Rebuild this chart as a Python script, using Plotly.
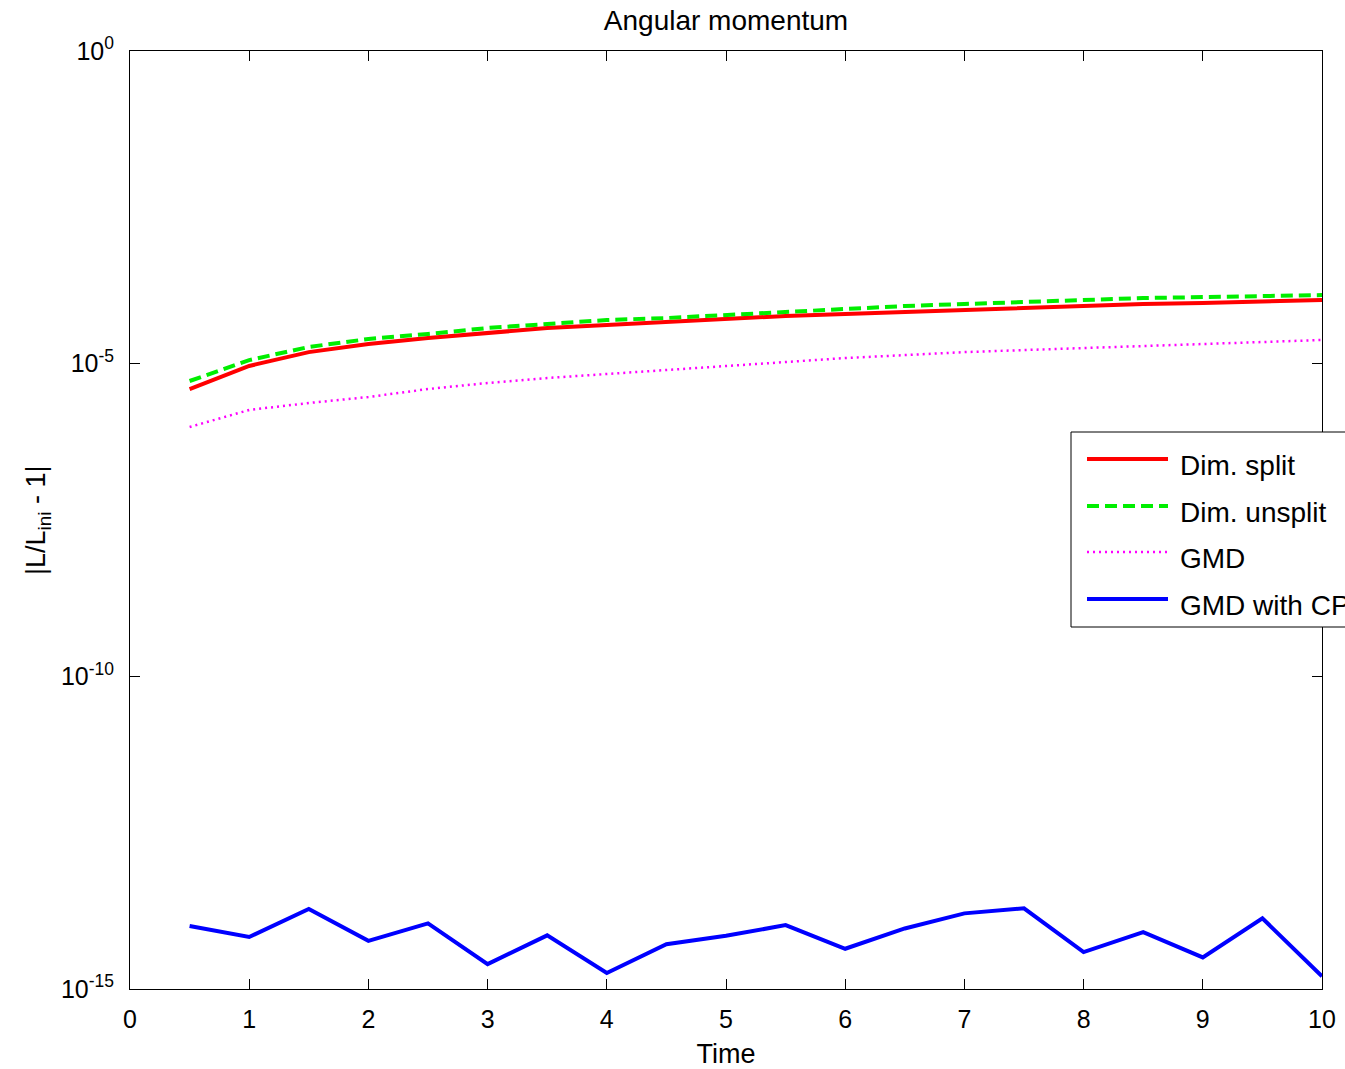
import plotly.graph_objects as go

time = [0.5, 1.0, 1.5, 2.0, 2.5, 3.0, 3.5, 4.0, 4.5, 5.0,
        5.5, 6.0, 6.5, 7.0, 7.5, 8.0, 8.5, 9.0, 9.5, 10.0]

dim_split = [3.93e-6, 9.2e-6, 1.53e-5, 2.06e-5, 2.57e-5, 3.09e-5, 3.72e-5, 4.15e-5, 4.64e-5, 5.18e-5,
             5.78e-5, 6.22e-5, 6.70e-5, 7.21e-5, 7.76e-5, 8.36e-5, 8.99e-5, 9.33e-5, 9.68e-5, 1.04e-4]

dim_unsplit = [5.28e-6, 1.14e-5, 1.85e-5, 2.48e-5, 2.98e-5, 3.72e-5, 4.31e-5, 4.99e-5, 5.37e-5, 6.0e-5,
               6.70e-5, 7.76e-5, 8.36e-5, 8.99e-5, 9.68e-5, 1.04e-4, 1.12e-4, 1.16e-4, 1.21e-4, 1.25e-4]

gmd = [9.7e-7, 1.82e-6, 2.35e-6, 2.93e-6, 3.93e-6, 4.91e-6, 5.90e-6, 6.83e-6, 7.91e-6, 9.17e-6,
       1.06e-5, 1.23e-5, 1.37e-5, 1.53e-5, 1.65e-5, 1.78e-5, 1.91e-5, 2.06e-5, 2.22e-5, 2.39e-5]

gmd_cp = [1.02e-14, 6.8e-15, 1.9e-14, 5.9e-15, 1.12e-14, 2.5e-15, 7.2e-15, 1.8e-15, 5.2e-15, 7.1e-15,
          1.05e-14, 4.4e-15, 9.3e-15, 1.62e-14, 1.95e-14, 3.9e-15, 8.1e-15, 3.2e-15, 1.35e-14, 1.6e-15]

series_names = ["Dim. split", "Dim. unsplit", "GMD", "GMD with CP"]
series_colors = ["#ff0000", "#00ee00", "#ff00ff", "#0000ff"]
series_widths = [4, 4, 2.5, 4]
series_dashes = ["solid", "12px,6px", "2px,4px", "solid"]

x_ticks = [0, 1, 2, 3, 4, 5, 6, 7, 8, 9, 10]
y_tickvals = [1e-15, 1e-10, 1e-5, 1]
y_ticktext = ["10<sup>-15</sup>", "10<sup>-10</sup>", "10<sup>-5</sup>", "10<sup>0</sup>"]

FONT = "Liberation Sans, Arial, Helvetica, sans-serif"

# plot area in pixels
L, R, T, B = 130, 1322, 51, 989
W, H = 1345, 1069


def px(xp):
    return (xp - L) / (R - L)


def py(yp):
    return 1 - (yp - T) / (B - T)


fig = go.Figure()
all_series = [dim_split, dim_unsplit, gmd, gmd_cp]
for name, vals, col, wd, ds in zip(series_names, all_series, series_colors, series_widths, series_dashes):
    fig.add_trace(go.Scatter(x=time, y=vals, mode="lines", name=name,
                             line=dict(color=col, width=wd, dash=ds), showlegend=False))

# manual legend (box extends past the right edge, as in the reference)
shapes = [dict(type="rect", xref="paper", yref="paper",
               x0=px(1071), x1=px(1420), y0=py(627), y1=py(432),
               fillcolor="white", line=dict(color="black", width=1), layer="above")]
annotations = []
row_y = [465, 512, 558, 605]
for name, col, wd, ds, ry in zip(series_names, series_colors, series_widths, series_dashes, row_y):
    shapes.append(dict(type="line", xref="paper", yref="paper",
                       x0=px(1087), x1=px(1168), y0=py(ry - 6), y1=py(ry - 6),
                       line=dict(color=col, width=wd, dash=ds), layer="above"))
    annotations.append(dict(text=name, xref="paper", yref="paper", x=px(1178), y=py(ry),
                            xanchor="left", yanchor="middle", showarrow=False,
                            font=dict(size=28, color="black")))

annotations.append(dict(text="|L/L<sub>ini</sub> - 1|", xref="paper", yref="paper",
                        x=px(38), y=py(520), xanchor="center", yanchor="middle",
                        textangle=-90, showarrow=False, font=dict(size=27, color="black")))

fig.update_layout(
    width=W, height=H,
    margin=dict(l=L, r=W - R, t=T, b=H - B),
    paper_bgcolor="white", plot_bgcolor="white",
    font=dict(family=FONT, size=24, color="black"),
    title=dict(text="Angular momentum", x=(L + R) / 2 / W, xanchor="center",
               y=1 - 20 / H, yanchor="middle", font=dict(size=28)),
    showlegend=False,
    shapes=shapes,
    annotations=annotations,
    xaxis=dict(range=[0, 10], tickvals=x_ticks, ticks="inside", ticklen=10, tickcolor="black",
               showline=True, linecolor="black", linewidth=1, mirror="ticks",
               showgrid=False, zeroline=False, ticklabelstandoff=8, automargin=False,
               title=dict(text="Time", standoff=13, font=dict(size=27)),
               tickfont=dict(size=25)),
    yaxis=dict(type="log", range=[-15, 0], tickvals=y_tickvals, ticktext=y_ticktext,
               ticks="inside", ticklen=10, tickcolor="black",
               showline=True, linecolor="black", linewidth=1, mirror="ticks",
               showgrid=False, zeroline=False, ticklabelstandoff=10, automargin=False,
               tickfont=dict(size=25)),
)

fig.write_html("out.html")
